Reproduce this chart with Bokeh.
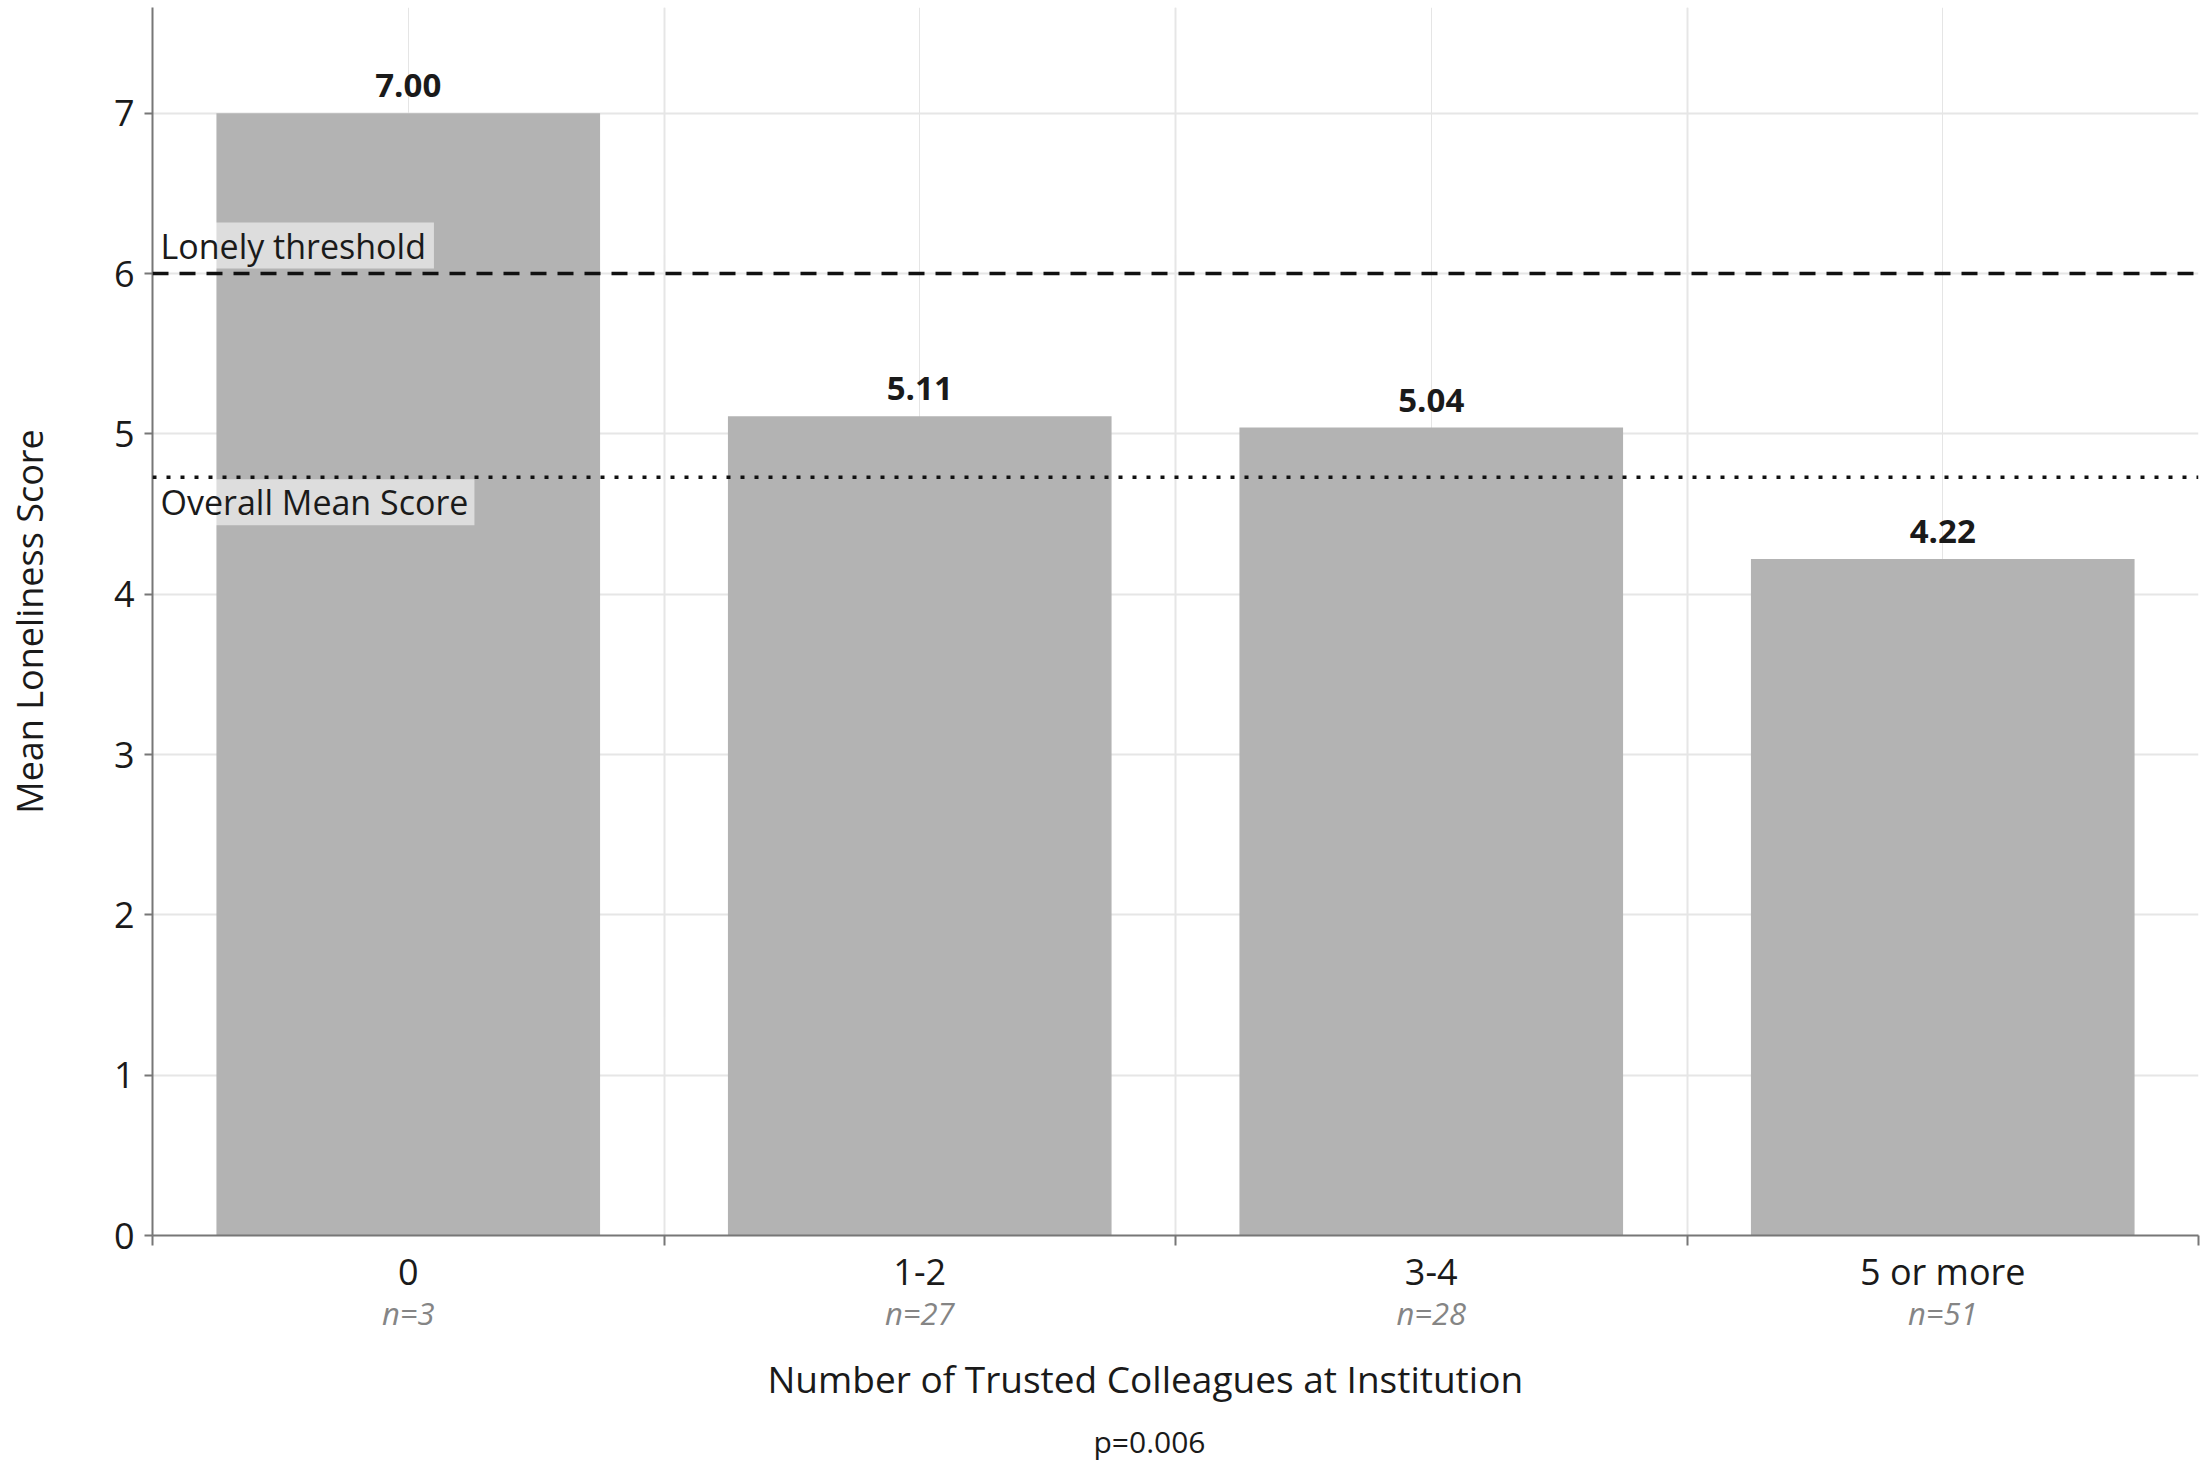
from bokeh.plotting import figure
from bokeh.models import (Range1d, LinearAxis, FixedTicker, Grid, Label, Span,
                          ColumnDataSource, Title)
from bokeh.embed import file_html
from bokeh.resources import INLINE
from bokeh.core.properties import value

# ---- data ----
categories = ["0", "1-2", "3-4", "5 or more"]
mean_scores = [7.00, 5.11, 5.04, 4.22]
value_labels = ["7.00", "5.11", "5.04", "4.22"]
sample_sizes = ["n=3", "n=27", "n=28", "n=51"]
y_ticks = [0, 1, 2, 3, 4, 5, 6, 7]
lonely_threshold = 6.0
overall_mean = 4.73
lonely_label = "Lonely threshold"
mean_label = "Overall Mean Score"
x_title = "Number of Trusted Colleagues at Institution"
y_title = "Mean Loneliness Score"
p_caption = "p=0.006"

FONT = "Open Sans"
W, H = 2205, 1461
BAR = "#b3b3b3"
GRID = "#e6e6e6"
AXIS = "#777777"
TXT = "#1a1a1a"

# category slots on a numeric axis: slot i spans [i, i+1], centred at i+0.5
centers = [i + 0.5 for i in range(len(categories))]
bounds = list(range(len(categories) + 1))

src = ColumnDataSource(dict(x=centers, score=mean_scores, lab=value_labels))

p = figure(width=W, height=H,
           x_range=Range1d(0, len(categories)),
           y_range=Range1d(0, 7.66),
           output_backend="svg", toolbar_location=None,
           x_axis_location=None, y_axis_location="left",
           min_border_left=152, min_border_right=7,
           min_border_top=7, min_border_bottom=226)
p.outline_line_color = None
p.background_fill_color = "white"
p.border_fill_color = "white"

# y axis
yax = p.yaxis[0]
yax.ticker = FixedTicker(ticks=y_ticks)
yax.axis_line_color = AXIS
yax.axis_line_width = 2
yax.major_tick_out = 8
yax.major_tick_in = 0
yax.major_tick_line_color = AXIS
yax.major_tick_line_width = 2
yax.minor_tick_out = 0
yax.minor_tick_in = 0
yax.major_label_text_font = FONT
yax.major_label_text_font_size = "36px"
yax.major_label_text_color = TXT
yax.major_label_standoff = 10
yax.axis_label = y_title
yax.axis_label_text_font = FONT
yax.axis_label_text_font_size = "36px"
yax.axis_label_text_font_style = "normal"
yax.axis_label_text_color = TXT
yax.axis_label_standoff = 57

p.ygrid.ticker = FixedTicker(ticks=y_ticks)
p.ygrid.grid_line_color = GRID
p.ygrid.grid_line_width = 2

# vertical grid at category boundaries
p.add_layout(Grid(dimension=0, ticker=FixedTicker(ticks=bounds[1:-1]),
                  grid_line_color=GRID, grid_line_width=2))

# boundary-tick axis (line + ticks)
bax = LinearAxis(ticker=FixedTicker(ticks=bounds),
                 major_label_overrides={b: "" for b in bounds},
                 major_label_text_font_size="1px", major_label_standoff=0,
                 major_tick_out=10, major_tick_in=0,
                 major_tick_line_color=AXIS, major_tick_line_width=2,
                 minor_tick_out=0, minor_tick_in=0,
                 axis_line_color=AXIS, axis_line_width=2)
p.add_layout(bax, "below")

# category label axis
cax = LinearAxis(ticker=FixedTicker(ticks=centers),
                 major_label_overrides={c: s for c, s in zip(centers, categories)},
                 major_tick_out=0, major_tick_in=0, minor_tick_out=0, minor_tick_in=0,
                 axis_line_color=None,
                 major_label_text_font=FONT, major_label_text_font_size="36px",
                 major_label_text_color=TXT, major_label_standoff=1)
p.add_layout(cax, "below")

# sample-size axis
nax = LinearAxis(ticker=FixedTicker(ticks=centers),
                 major_label_overrides={c: s for c, s in zip(centers, sample_sizes)},
                 major_tick_out=0, major_tick_in=0, minor_tick_out=0, minor_tick_in=0,
                 axis_line_color=None,
                 major_label_text_font=FONT, major_label_text_font_size="31px",
                 major_label_text_font_style="italic", major_label_text_color="#858585",
                 major_label_standoff=-7)
p.add_layout(nax, "below")

# x-axis title and p-value caption
p.add_layout(Title(text=x_title, align="left", offset=615, text_font=FONT,
                   text_font_size="37px", text_font_style="normal",
                   text_color=TXT, standoff=29), "below")
p.add_layout(Title(text=p_caption, align="left", offset=941, text_font=FONT,
                   text_font_size="30px", text_font_style="normal",
                   text_color=TXT, standoff=0), "below")

# bars
p.vbar(x="x", top="score", width=0.75, source=src, fill_color=BAR, line_color=None)
p.text(x="x", y="score", text="lab", source=src, text_align="center",
       text_baseline="bottom", y_offset=-16, text_font=value(FONT),
       text_font_size="33px", text_font_style="bold", text_color=TXT)

# reference lines
p.add_layout(Span(location=lonely_threshold, dimension="width", line_color="#111111",
                  line_width=3.5, line_dash="16 11"))
p.add_layout(Span(location=overall_mean, dimension="width", line_color="#111111",
                  line_width=3.5, line_dash="4 10"))

p.add_layout(Label(x=2, y=lonely_threshold, x_units="screen", y_units="data",
                   text=lonely_label, text_baseline="bottom", y_offset=5,
                   text_font=FONT, text_font_size="34px", text_color=TXT,
                   background_fill_color="white", background_fill_alpha=0.55,
                   padding=dict(left=6, right=8, top=0, bottom=0)))
p.add_layout(Label(x=2, y=overall_mean, x_units="screen", y_units="data",
                   text=mean_label, text_baseline="top", y_offset=-2,
                   text_font=FONT, text_font_size="34px", text_color=TXT,
                   background_fill_color="white", background_fill_alpha=0.55,
                   padding=dict(left=6, right=6, top=0, bottom=0)))

open("out.html", "w").write(file_html(p, INLINE))
